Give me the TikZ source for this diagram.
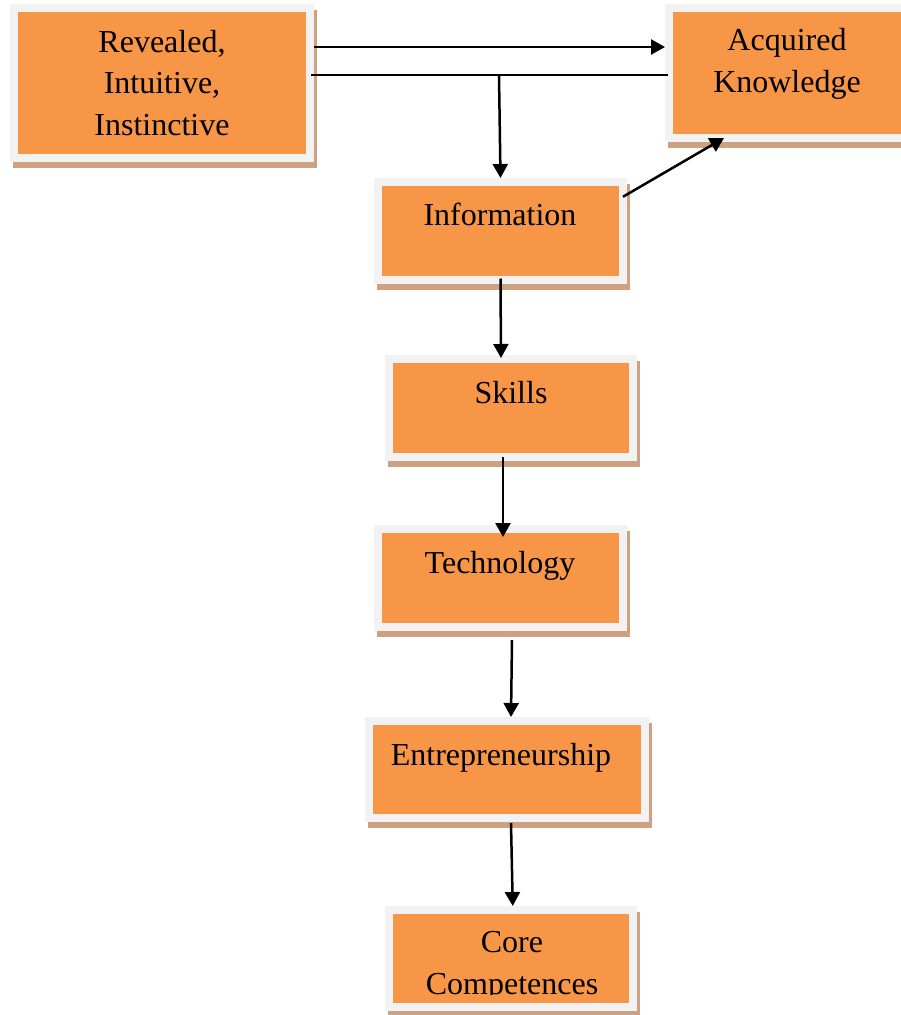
\documentclass[tikz,border=0pt]{standalone}
\usepackage{fontspec}
\setmainfont{Liberation Serif}
\usetikzlibrary{arrows.meta,shadows}
\definecolor{boxorange}{HTML}{F79646}
\definecolor{boxgrey}{HTML}{F2F2F2}
\definecolor{boxshadow}{RGB}{206,161,128}
\begin{document}
\begin{tikzpicture}[x=1pt,y=-1pt,
  box/.style={rectangle, draw=boxgrey, fill=boxorange, line width=8pt, inner sep=0pt,
    general shadow={fill=boxshadow, draw=boxshadow, line width=8pt, shadow xshift=3pt, shadow yshift=-6pt}},
  lbl/.style={font=\fontsize{32}{41.5}\selectfont, align=center, inner sep=0pt, anchor=base},
  arr/.style={line width=2.5pt, -{Triangle[length=14pt,width=15pt]}},
  ln/.style={line width=2.5pt}]
\useasboundingbox (0,0) rectangle (901,1015);
% boxes
\node[box, minimum width=296.5pt, minimum height=150pt] (rev) at (161.75,83) {};
\node[box, minimum width=236pt, minimum height=130pt] (acq) at (787,73) {};
\node[box, minimum width=245pt, minimum height=97.5pt] (info) at (500.5,230.75) {};
\node[box, minimum width=244pt, minimum height=97.5pt] (skills) at (511,407.75) {};
\node[box, minimum width=244.5pt, minimum height=97.5pt] (tech) at (500.25,577.75) {};
\node[box, minimum width=275.5pt, minimum height=97pt] (entre) at (506.75,769.5) {};
\node[box, minimum width=244.5pt, minimum height=97pt] (core) at (510.75,958.5) {};
% labels (base anchor = baseline of the last line)
\node[lbl] (revT) at (162,135) {Revealed,\\Intuitive,\\Instinctive};
\node[lbl] (acqT) at (787,92) {Acquired\\Knowledge};
\node[lbl] (infoT) at (500,225) {Information};
\node[lbl] (skillsT) at (511,403) {Skills};
\node[lbl] (techT) at (500,573) {Technology};
\node[lbl] (entreT) at (501,765) {Entrepreneurship};
\begin{scope}
  \clip (core.north west) rectangle ([yshift=17pt]core.south east);
  \node[lbl] (coreT) at (512,994) {Core\\Competences};
\end{scope}
% connectors
\draw[arr] ([yshift=36pt]rev.east) -- ([yshift=26pt]acq.west);
\draw[ln] ([xshift=-3pt,yshift=8pt]rev.east) -- ([xshift=3pt,yshift=-2pt]acq.west);
\coordinate (j) at (499,75);
\draw[arr] (j) -- (info.north);
\draw[arr] ([xshift=-4pt,yshift=34pt]info.east) -- ([xshift=-63pt,yshift=4pt]acq.south);
\draw[arr] ([yshift=5pt]info.south) -- ([xshift=-10pt,yshift=-3pt]skills.north);
\draw[arr] ([xshift=-8pt,yshift=3.5pt]skills.south) -- ([xshift=2.75pt,yshift=-12pt]tech.north);
\draw[arr] ([xshift=11.75pt,yshift=-9.5pt]tech.south) -- ([xshift=4.25pt]entre.north);
\draw[arr] ([xshift=4.25pt,yshift=-1pt]entre.south) -- ([xshift=2pt]core.north);
\end{tikzpicture}
\end{document}
